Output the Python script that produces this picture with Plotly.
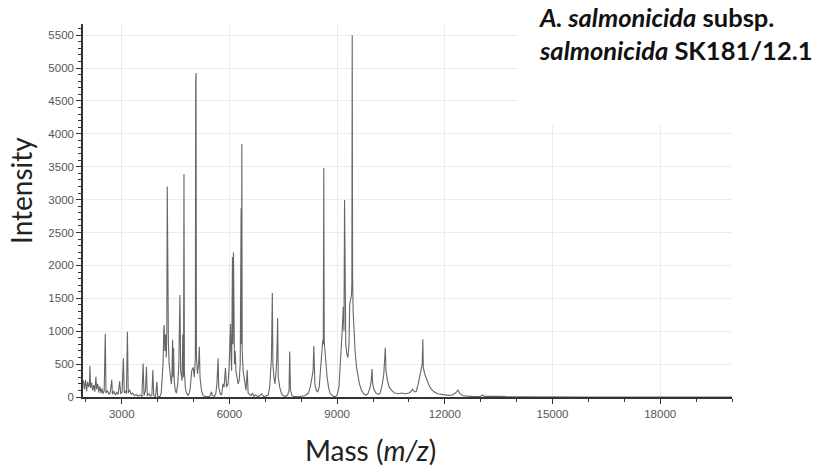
import plotly.graph_objects as go

# m/z values and intensities
mass = [
    1930, 1960, 1990, 2020, 2050, 2080, 2100, 2114, 2130, 2160, 2190, 2220, 2250, 2280, 2300,
    2330, 2360, 2390, 2420, 2450, 2480, 2510, 2541, 2560, 2600, 2640, 2680, 2720, 2740, 2780,
    2820, 2860, 2900, 2940, 2970, 3010, 3045, 3070, 3100, 3130, 3157, 3180, 3220, 3260, 3300,
    3350, 3400, 3450, 3500, 3560, 3595, 3620, 3660, 3688, 3710, 3760, 3800, 3840, 3866, 3890,
    3940, 3980, 4000, 4060, 4100, 4130, 4150, 4170, 4180, 4200, 4220, 4240, 4255, 4267, 4275,
    4285, 4300, 4320, 4350, 4380, 4400, 4415, 4430, 4443, 4460, 4490, 4520, 4560, 4590, 4620,
    4640, 4680, 4700, 4720, 4733, 4745, 4770, 4800, 4850, 4900, 4950, 4990, 5020, 5050, 5060,
    5069, 5080, 5110, 5140, 5161, 5180, 5220, 5260, 5300, 5350, 5450, 5500, 5520, 5580, 5620,
    5650, 5684, 5700, 5740, 5780, 5820, 5850, 5888, 5920, 5960, 5990, 6010, 6028, 6045, 6060,
    6084, 6098, 6112, 6125, 6140, 6160, 6180, 6210, 6240, 6270, 6300, 6325, 6335, 6344, 6355,
    6380, 6420, 6460, 6495, 6520, 6560, 6600, 6640, 6680, 6720, 6800, 6900, 6950, 7000, 7080,
    7120, 7150, 7170, 7194, 7210, 7240, 7270, 7300, 7320, 7342, 7360, 7400, 7450, 7500, 7560,
    7620, 7660, 7678, 7700, 7740, 7800, 7900, 8000, 8100, 8200, 8250, 8300, 8330, 8349, 8362,
    8380, 8420, 8460, 8500, 8540, 8570, 8600, 8615, 8628, 8640, 8660, 8690, 8720, 8760, 8800,
    8850, 8900, 8950, 9000, 9050, 9080, 9110, 9140, 9170, 9190, 9207, 9220, 9240, 9270, 9300,
    9330, 9350, 9380, 9400, 9410, 9420, 9430, 9445, 9470, 9500, 9540, 9580, 9620, 9680, 9750,
    9800, 9860, 9920, 9950, 9971, 9990, 10020, 10080, 10150, 10200, 10260, 10300, 10342, 10360,
    10400, 10450, 10520, 10600, 10700, 10800, 10900, 11000, 11050, 11100, 11150, 11200, 11260,
    11320, 11370, 11387, 11400, 11440, 11500, 11560, 11620, 11700, 11800, 11900, 12000, 12100,
    12200, 12300, 12367, 12420, 12500, 12650, 12800, 13000, 13050, 13100, 13300, 13500, 13560,
    13700, 14000, 16000, 20000,
]
intensity = [
    250, 120, 260, 90, 230, 150, 200, 470, 140, 220, 100, 180, 80, 310, 120,
    200, 70, 160, 60, 130, 50, 90, 960, 60, 100, 40, 70, 260, 40, 90,
    30, 70, 40, 240, 50, 80, 590, 60, 90, 50, 990, 60, 110, 40, 60,
    20, 40, 15, 30, 10, 510, 20, 100, 460, 20, 50, 15, 30, 410, 20,
    10, 230, 10, 5, 60, 300, 500, 1000, 1094, 700, 950, 600, 1000, 3200, 2000,
    1750, 800, 500, 300, 200, 350, 870, 300, 750, 250, 100, 60, 200, 500, 1550,
    400, 250, 950, 300, 3390, 400, 150, 60, 20, 100, 400, 450, 300, 600, 4820,
    4925, 600, 350, 500, 765, 300, 100, 30, 10, 5, 10, 80, 20, 10, 50,
    200, 590, 150, 50, 30, 200, 150, 440, 150, 200, 450, 700, 1110, 600, 400,
    2130, 800, 2200, 700, 500, 700, 400, 300, 200, 250, 500, 2870, 800, 3845, 700,
    400, 200, 100, 410, 60, 40, 20, 60, 10, 30, 5, 50, 5, 10, 30,
    150, 400, 600, 1580, 500, 300, 200, 400, 600, 1200, 300, 150, 50, 20, 10,
    30, 100, 690, 100, 20, 5, 5, 10, 20, 60, 150, 300, 400, 775, 610,
    200, 100, 80, 150, 400, 700, 870, 800, 3480, 850, 700, 450, 300, 150, 60,
    30, 10, 5, 30, 150, 400, 800, 1000, 1370, 1000, 2995, 1200, 800, 650, 600,
    800, 1400, 1500, 1550, 1730, 5500, 1860, 1300, 900, 700, 450, 300, 200, 100, 40,
    30, 50, 150, 250, 425, 200, 120, 60, 40, 60, 200, 350, 750, 400,
    250, 150, 100, 60, 50, 60, 50, 60, 80, 120, 80, 80, 200,
    350, 500, 877, 450, 350, 250, 180, 120, 80, 50, 40, 30, 25,
    30, 60, 106, 50, 20, 10, 5, 10, 30, 10, 10, 20, 10,
    5, 2, 0, 0,
]

x_tick_vals = [3000, 6000, 9000, 12000, 15000, 18000]
x_tick_text = ["3000", "6000", "9000", "12000", "15000", "18000"]
y_tick_vals = [0, 500, 1000, 1500, 2000, 2500, 3000, 3500, 4000, 4500, 5000, 5500]
y_tick_text = [str(v) for v in y_tick_vals]

title_lines = ["<b><i>A. salmonicida</i> subsp.</b>", "<b><i>salmonicida</i> SK181/12.1</b>"]
x_title = "Mass (<i>m/z</i>)"
y_title = "Intensity"

fig = go.Figure()
fig.add_trace(go.Scatter(
    x=mass, y=intensity, mode="lines",
    line=dict(color="rgba(85,85,85,0.9)", width=1.1),
    hoverinfo="skip", showlegend=False,
))

tick_font = dict(family="Liberation Sans, Arial", size=11.5, color="#555555")

fig.update_layout(
    width=836, height=466,
    margin=dict(l=83, r=104, t=24, b=69),
    paper_bgcolor="white", plot_bgcolor="white",
    showlegend=False,
    xaxis=dict(
        range=[1920, 20000], tickmode="array", tickvals=x_tick_vals, ticktext=x_tick_text,
        showgrid=True, gridcolor="#ececec", gridwidth=1,
        showline=True, linecolor="#333333", linewidth=1.5,
        ticks="outside", ticklen=5, tickcolor="#333333", tickwidth=1,
        minor=dict(dtick=1000, tick0=0, ticks="outside", ticklen=3, tickcolor="#333333", showgrid=False),
        tickfont=tick_font, zeroline=False,
    ),
    yaxis=dict(
        range=[0, 5670], tickmode="array", tickvals=y_tick_vals, ticktext=y_tick_text,
        showgrid=True, gridcolor="#ececec", gridwidth=1,
        showline=True, linecolor="#333333", linewidth=1.5,
        ticks="outside", ticklen=5, tickcolor="#333333", tickwidth=1,
        minor=dict(dtick=100, tick0=0, ticks="outside", ticklen=3, tickcolor="#333333", showgrid=False),
        tickfont=tick_font, zeroline=False,
    ),
)

# white box behind the sample label (hides grid lines there)
fig.add_shape(type="rect", xref="paper", yref="paper",
              x0=(517 - 83) / 649, x1=1.2, y0=(397 - 125) / 373, y1=1.2,
              fillcolor="white", line=dict(width=0), layer="above")

label_font = dict(family="Lato", size=25.5, color="#111111")
fig.add_annotation(
    xref="paper", yref="paper", x=(536 - 83) / 649, y=(397 - 33) / 373,
    xanchor="left", yanchor="middle", align="left", showarrow=False,
    text="<br>".join(title_lines), font=label_font,
)

fig.add_annotation(
    xref="paper", yref="paper", x=(370 - 83) / 649, y=(397 - 450) / 373,
    xanchor="center", yanchor="middle", showarrow=False,
    text=x_title, font=dict(family="Lato", size=28, color="#222222"),
)
fig.add_annotation(
    xref="paper", yref="paper", x=(21 - 83) / 649, y=(397 - 191) / 373,
    xanchor="center", yanchor="middle", showarrow=False, textangle=-90,
    text=y_title, font=dict(family="Lato", size=28, color="#222222"),
)

fig.write_html("out.html")
